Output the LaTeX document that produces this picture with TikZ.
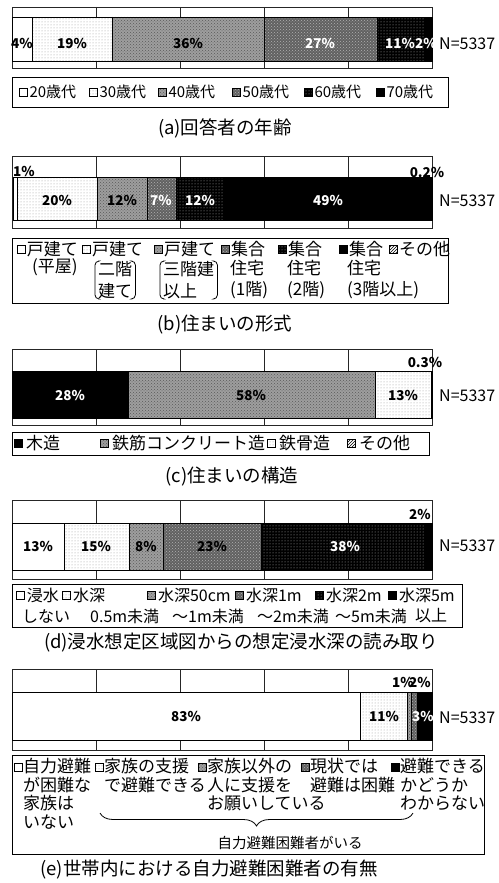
\documentclass[tikz,border=0pt]{standalone}
\usepackage{fontspec}
\setmainfont{Noto Sans CJK JP}
\usetikzlibrary{patterns,positioning,decorations.pathreplacing}

\tikzset{
  pwhite/.style={fill=white},
  pdots/.style={preaction={fill=white},pattern=dots,pattern color=gray!80},
  pgrey/.style={preaction={fill=black!38},pattern=crosshatch dots,pattern color=black!65},
  pdark/.style={preaction={fill=black!62},pattern=crosshatch dots,pattern color=black!30},
  pbdots/.style={preaction={fill=black},pattern=dots,pattern color=gray!60},
  pblack/.style={fill=black},
  phatch/.style={preaction={fill=white},pattern=north east lines},
  frame/.style={line width=0.8pt,draw=black!85},
  seg/.style={draw=black,line width=0.8pt},
  pct/.style={font=\fontsize{13.5}{14}\selectfont\bfseries,inner sep=0pt},
  nlab/.style={font=\fontsize{16}{18}\selectfont,anchor=west,inner sep=0pt},
  swatch/.style={draw,line width=0.8pt,minimum size=8pt,inner sep=0pt},
  legtext/.style={font=\fontsize{17}{21}\selectfont,inner sep=0pt,anchor=west},
  legbox/.style={draw,line width=1pt},
  paren/.style={line width=0.8pt,rounded corners=4pt},
  caption/.style={font=\fontsize{18.5}{20}\selectfont,inner sep=0pt},
}

\begin{document}
\begin{tikzpicture}[x=1pt,y=-1pt]
  \useasboundingbox (0,0) rectangle (498,883);

  % (a) age
  \draw[frame] (12,7) rectangle (432,68);
  \foreach \x in {96,180,264,348} \draw[frame] (\x,7) -- (\x,68);
  \foreach \a/\b/\s in {12/32/pwhite,32/112/pdots,112/264/pgrey,264/377/pdark,377/424/pbdots,424/432/pblack}
    \draw[seg,\s] (\a,17) rectangle (\b,61);
  \foreach \x/\t/\c [count=\i] in {22/4/black,72/19/black,188/36/black,320/27/white,400/11/white,426/2/white}
    \node[pct,text=\c] (pa\i) at (\x,43) {\t\%};
  \node[nlab] (na) at (439,44) {N=5337};

  \draw[legbox] (12,77) rectangle (448,107);
  \foreach \x/\s/\t [count=\i] in {19/pwhite/20歳代,89/pdots/30歳代,158/pgrey/40歳代,232/pdark/50歳代,304/pbdots/60歳代,376/pblack/70歳代}{
    \node[swatch,\s,anchor=west] (la\i) at (\x,92) {};
    \node[legtext,font=\fontsize{15}{17}\selectfont,right=1.5pt of la\i] (ta\i) {\t};
  }
  \node[caption] (ca) at (225,128) {(a)回答者の年齢};

  % (b) type of dwelling
  \draw[frame] (12,156) rectangle (432,228);
  \foreach \x in {96,180,264,348} \draw[frame] (\x,156) -- (\x,228);
  \foreach \a/\b/\s in {13/17/pwhite,17/97/pdots,97/147/pgrey,147/176/pdark,176/224/pbdots,224/431/pblack,431/432/phatch}
    \draw[seg,\s] (\a,177) rectangle (\b,220);
  \foreach \x/\t/\c [count=\i] in {57/20/black,122/12/black,161/7/white,200/12/white,328/49/white}
    \node[pct,text=\c] (pb\i) at (\x,200) {\t\%};
  \node[pct,anchor=west] (pb6) at (13,171) {1\%};
  \node[pct] (pb7) at (427,172) {0.2\%};
  \node[nlab] (nb) at (439,201) {N=5337};

  \draw[legbox] (12,238) rectangle (448,303);
  \foreach \x/\s/\t [count=\i] in {17/pwhite/戸建て,82/pdots/戸建て,154/pgrey/戸建て,221/pdark/集合,278/pbdots/集合,339/pblack/集合,389/phatch/その他}{
    \node[swatch,\s,anchor=west] (lb\i) at (\x,249) {};
    \node[legtext,right=1pt of lb\i] (tb\i) {\t};
  }
  \node[legtext] (rb1) at (32,267) {(平屋)};
  \node[legtext,align=left,inner xsep=3pt,font=\fontsize{17}{22}\selectfont] (rb2) at (95,280) {二階\\建て};
  \node[legtext,align=left,inner xsep=3pt,font=\fontsize{17}{22}\selectfont] (rb3) at (160,280) {三階建\\以上};
  \foreach \n in {rb2,rb3}{
    \draw[paren] ([xshift=3pt]\n.north west) -- (\n.north west) -- (\n.south west) -- ([xshift=3pt]\n.south west);
    \draw[paren] ([xshift=-3pt]\n.north east) -- (\n.north east) -- (\n.south east) -- ([xshift=-3pt]\n.south east);
  }
  \foreach \x/\t [count=\i] in {230/(1階),287/(2階),347/(3階以上)}{
    \node[legtext] (sb\i) at (\x,268) {住宅};
    \node[legtext] (fb\i) at (\x,290) {\t};
  }
  \node[caption] (cb) at (225,325) {(b)住まいの形式};

  % (c) structure
  \draw[frame] (12,349) rectangle (432,425);
  \foreach \x in {96,180,264,348} \draw[frame] (\x,349) -- (\x,425);
  \foreach \a/\b/\s in {12/128/pblack,128/375/pgrey,375/431/pdots,431/432/phatch}
    \draw[seg,\s] (\a,371) rectangle (\b,418);
  \foreach \x/\t/\c [count=\i] in {70/28/white,251/58/black,403/13/black}
    \node[pct,text=\c] (pc\i) at (\x,395) {\t\%};
  \node[pct] (pc4) at (425,362) {0.3\%};
  \node[nlab] (nc) at (439,396) {N=5337};

  \draw[legbox] (12,432) rectangle (429,455);
  \foreach \x/\s/\t [count=\i] in {14/pblack/木造,100/pgrey/鉄筋コンクリート造,267/pdots/鉄骨造,347/phatch/その他}{
    \node[swatch,\s,anchor=west] (lc\i) at (\x,443) {};
    \node[legtext,right=3pt of lc\i] (tc\i) {\t};
  }
  \node[caption] (cc) at (232,477) {(c)住まいの構造};

  % (d) flood depth
  \draw[frame] (12,500) rectangle (432,579);
  \foreach \x in {96,180,264,348} \draw[frame] (\x,500) -- (\x,579);
  \foreach \a/\b/\s in {12/64/pwhite,64/129/pdots,129/163/pgrey,163/261/pdark,261/424/pbdots,424/432/pblack}
    \draw[seg,\s] (\a,523) rectangle (\b,570);
  \foreach \x/\t/\c [count=\i] in {38/13/black,96/15/black,146/8/black,212/23/black,345/38/white}
    \node[pct,text=\c] (pd\i) at (\x,546) {\t\%};
  \node[pct] (pd6) at (420,514) {2\%};
  \node[nlab] (nd) at (439,546) {N=5337};

  \draw[legbox] (12,584) rectangle (462,627);
  \foreach \x/\s/\t [count=\i] in {16/pwhite/浸水,62/pdots/水深,147/pgrey/水深50cm,235/pdark/水深1m,315/pbdots/水深2m,388/pblack/水深5m}{
    \node[swatch,\s,anchor=west] (ld\i) at (\x,595) {};
    \node[legtext,font=\fontsize{16}{19}\selectfont,right=2pt of ld\i] (td\i) {\t};
  }
  \foreach \x/\t [count=\i] in {22/しない,90/0.5m未満,172/～1m未満,257/～2m未満,335/～5m未満,415/以上}
    \node[legtext,font=\fontsize{16}{19}\selectfont] (sd\i) at (\x,616) {\t};
  \node[caption] (cd) at (241,643) {(d)浸水想定区域図からの想定浸水深の読み取り};

  % (e) persons needing help to evacuate
  \draw[frame] (12,669) rectangle (432,750);
  \foreach \x in {96,180,264,348} \draw[frame] (\x,669) -- (\x,750);
  \foreach \a/\b/\s in {12/360/pwhite,360/407/pdots,407/411/pgrey,411/417/pdark,417/432/pblack}
    \draw[seg,\s] (\a,692) rectangle (\b,740);
  \foreach \x/\t/\c [count=\i] in {186/83/black,384/11/black,423/3/white}
    \node[pct,text=\c] (pe\i) at (\x,716) {\t\%};
  \node[pct] (pe4) at (403,682) {1\%};
  \node[pct] (pe5) at (420,682) {2\%};
  \node[nlab] (ne) at (439,718) {N=5337};

  \draw[legbox] (12,755) rectangle (484,854);
  \foreach \x/\s [count=\i] in {14/pwhite,95/pdots,198/pgrey,301/pdark,391/pblack}
    \node[swatch,\s,anchor=west] (le\i) at (\x,767) {};
  \node[legtext,align=left,anchor=north west,font=\fontsize{17}{18.7}\selectfont] (te1) at (23,758) {自力避難\\が困難な\\家族は\\いない};
  \node[legtext,align=left,anchor=north west,font=\fontsize{17}{18.7}\selectfont] (te2) at (104,758) {家族の支援\\で避難できる};
  \node[legtext,align=left,anchor=north west,font=\fontsize{17}{18.7}\selectfont] (te3) at (207,758) {家族以外の\\人に支援を\\お願いしている};
  \node[legtext,align=left,anchor=north west,font=\fontsize{17}{18.7}\selectfont] (te4) at (310,758) {現状では\\避難は困難};
  \node[legtext,align=left,anchor=north west,font=\fontsize{17}{18.7}\selectfont] (te5) at (400,758) {避難できる\\かどうか\\わからない};
  \coordinate (bl) at (100,813);
  \coordinate (br) at (413,813);
  \draw[line width=0.8pt,decorate,decoration={brace,mirror,amplitude=13pt}] (bl) -- (br);
  \node[font=\fontsize{14.5}{16}\selectfont,inner sep=0pt] (be) at (290,843) {自力避難困難者がいる};
  \node[caption] (ce) at (209,870) {(e)世帯内における自力避難困難者の有無};
\end{tikzpicture}
\end{document}
